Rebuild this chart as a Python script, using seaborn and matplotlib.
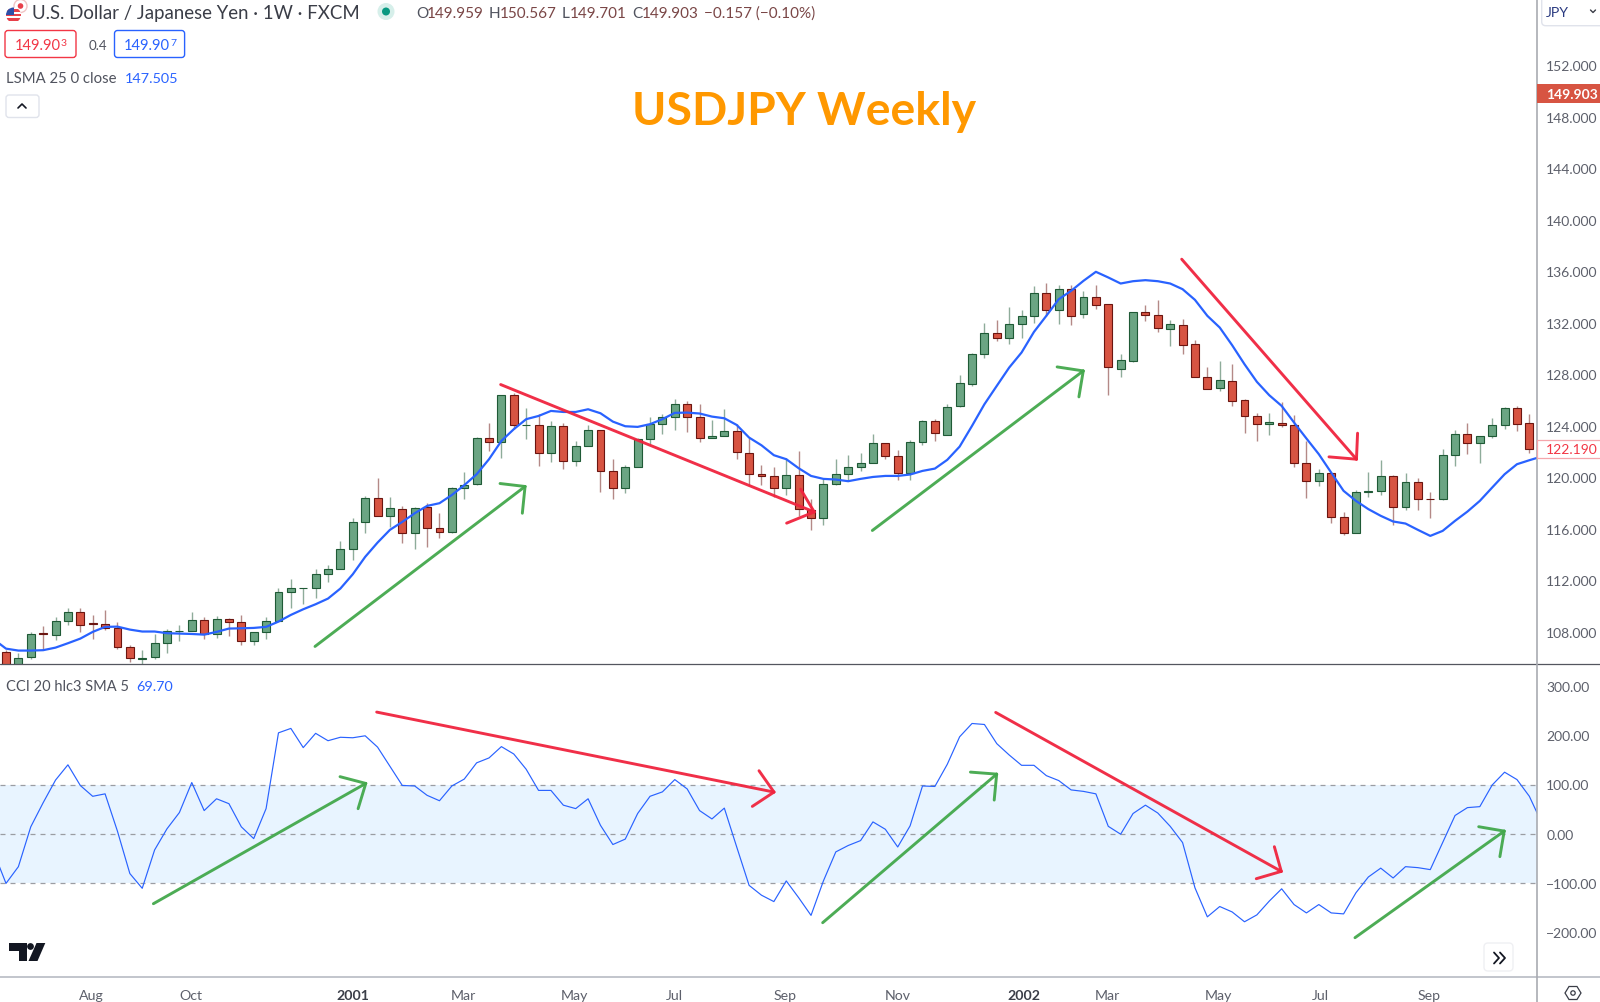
import numpy as np
import matplotlib
matplotlib.use("Agg")
import matplotlib.pyplot as plt
from matplotlib.patches import Circle, FancyBboxPatch, Polygon, Rectangle
import seaborn as sns

# -----------------------
# Weekly candles, one value per bar
# -----------------------
candle_open = [
    106.46, 105.20, 106.05, 107.88, 107.78, 108.82, 109.57, 108.65, 108.59, 108.33,
    106.85, 105.92, 106.02, 107.13, 108.05, 108.07, 108.90, 107.86, 108.97, 108.74,
    107.29, 108.02, 108.82, 111.12, 111.41, 111.41, 112.52, 112.89, 114.44, 116.56,
    118.43, 117.00, 117.57, 115.68, 117.68, 116.04, 115.76, 119.20, 119.46, 123.06,
    122.78, 126.38, 124.08, 124.10, 121.90, 124.02, 121.30, 122.47, 123.66, 120.47,
    119.15, 120.84, 122.99, 124.18, 124.67, 125.71, 124.67, 123.06, 123.19, 123.63,
    121.93, 120.24, 120.09, 119.15, 120.16, 117.50, 116.87, 119.52, 120.24, 120.84,
    121.15, 122.70, 121.67, 120.35, 122.78, 124.39, 123.30, 125.55, 127.24, 129.62,
    131.25, 130.86, 131.90, 132.50, 134.36, 133.01, 134.64, 132.73, 134.05, 133.45,
    128.45, 129.05, 132.88, 132.65, 131.56, 131.82, 130.35, 127.83, 126.98, 127.52,
    125.99, 124.75, 124.18, 124.23, 124.10, 121.15, 119.75, 120.32, 116.88, 115.71,
    118.85, 118.92, 120.09, 117.68, 119.60, 118.35, 118.28, 121.72, 123.35, 122.68,
    123.22, 124.03, 125.42, 124.21,
]
candle_close = [
    105.00, 105.96, 107.86, 107.84, 108.82, 109.57, 108.53, 108.62, 108.30, 106.85,
    105.94, 105.96, 107.16, 108.07, 108.07, 108.90, 107.86, 108.97, 108.74, 107.29,
    108.02, 108.82, 111.12, 111.41, 111.43, 112.52, 112.89, 114.44, 116.56, 118.43,
    117.03, 117.60, 115.68, 117.65, 116.07, 115.76, 119.20, 119.44, 123.09, 122.78,
    126.38, 124.07, 124.10, 121.90, 124.02, 121.30, 122.44, 123.66, 120.50, 119.15,
    120.84, 122.99, 124.18, 124.67, 125.71, 124.70, 123.06, 123.19, 123.63, 121.95,
    120.27, 120.11, 119.15, 120.19, 117.57, 116.87, 119.52, 120.24, 120.84, 121.15,
    122.70, 121.67, 120.35, 122.78, 124.39, 123.43, 125.50, 127.34, 129.62, 131.25,
    130.86, 131.90, 132.50, 134.36, 133.01, 134.64, 132.50, 134.05, 133.40, 128.61,
    129.10, 132.81, 132.65, 131.61, 131.90, 130.29, 127.78, 126.90, 127.57, 125.94,
    124.78, 124.18, 124.31, 124.10, 121.15, 119.75, 120.32, 116.88, 115.69, 118.85,
    118.90, 120.12, 117.68, 119.60, 118.35, 118.30, 121.72, 123.35, 122.70, 123.20,
    124.03, 125.42, 124.18, 122.19,
]
candle_high = [
    106.60, 106.38, 107.99, 108.46, 109.18, 109.83, 109.83, 109.28, 109.67, 108.77,
    107.00, 106.59, 107.81, 108.20, 108.51, 109.57, 109.13, 109.23, 109.10, 109.28,
    108.02, 109.13, 111.43, 112.08, 111.43, 112.86, 113.17, 115.03, 116.87, 118.56,
    119.93, 118.45, 117.78, 117.70, 117.99, 117.21, 119.28, 120.42, 123.15, 124.26,
    126.38, 126.54, 125.42, 124.90, 124.39, 124.20, 122.81, 124.05, 123.66, 121.41,
    120.99, 123.09, 124.72, 124.90, 126.12, 125.94, 125.73, 124.46, 125.34, 124.13,
    123.09, 120.94, 120.79, 121.54, 122.05, 118.35, 119.90, 121.46, 121.77, 121.93,
    123.35, 122.70, 122.11, 122.94, 124.44, 124.57, 125.73, 127.93, 129.67, 131.98,
    132.21, 133.27, 132.99, 134.88, 135.09, 134.93, 134.93, 134.44, 134.96, 133.50,
    129.57, 132.88, 133.40, 133.76, 132.21, 132.34, 130.66, 128.61, 129.05, 128.77,
    126.12, 124.98, 124.98, 125.86, 124.83, 122.83, 120.68, 120.37, 117.34, 119.03,
    120.43, 121.31, 120.19, 120.30, 119.91, 118.87, 122.24, 123.66, 124.21, 123.25,
    124.62, 125.50, 125.55, 124.95,
]
candle_low = [
    104.80, 104.90, 105.87, 106.59, 107.34, 108.51, 107.99, 107.47, 108.15, 106.69,
    105.66, 105.48, 105.87, 106.38, 107.29, 108.07, 107.42, 107.55, 107.68, 106.98,
    106.98, 107.47, 108.82, 109.83, 110.19, 110.63, 111.87, 112.86, 113.58, 115.66,
    117.03, 116.17, 114.91, 114.41, 114.62, 115.27, 115.71, 118.30, 119.44, 122.05,
    121.51, 123.74, 122.96, 120.89, 121.20, 120.68, 120.89, 122.44, 118.87, 118.30,
    118.77, 120.81, 122.57, 123.35, 123.69, 123.56, 122.75, 123.06, 123.19, 121.41,
    119.34, 119.41, 118.51, 118.61, 117.00, 115.89, 116.33, 119.39, 119.80, 120.50,
    121.12, 121.46, 119.80, 119.80, 122.52, 122.83, 123.30, 125.50, 127.11, 129.31,
    130.60, 130.35, 130.84, 132.03, 132.55, 131.90, 131.82, 132.37, 133.07, 126.38,
    127.76, 129.00, 132.16, 131.30, 130.22, 129.59, 127.76, 126.90, 126.72, 125.55,
    123.48, 122.83, 123.27, 123.95, 120.81, 118.39, 119.29, 116.44, 115.53, 115.69,
    118.48, 118.61, 116.33, 117.47, 117.45, 116.85, 118.22, 120.89, 121.85, 121.13,
    123.04, 123.74, 123.61, 121.90,
]

# LSMA and CCI start one bar before the first visible candle
lsma_values = [
    107.42, 106.69, 106.54, 106.54, 106.57, 106.77, 107.11, 107.47, 107.99, 108.38,
    108.40, 108.17, 108.02, 108.02, 107.89, 107.86, 107.83, 107.78, 107.99, 108.25,
    108.27, 108.30, 108.38, 108.79, 109.31, 109.75, 110.14, 110.58, 111.36, 112.47,
    113.82, 114.93, 115.92, 116.54, 117.21, 117.78, 117.99, 118.63, 119.39, 120.24,
    121.41, 122.83, 123.74, 124.52, 124.77, 125.16, 125.08, 125.08, 125.29, 124.98,
    124.33, 123.97, 123.92, 124.13, 124.52, 125.01, 125.03, 124.96, 124.72, 124.59,
    124.07, 123.09, 122.49, 121.72, 121.41, 120.71, 120.11, 119.88, 119.83, 119.70,
    119.88, 120.03, 120.11, 120.11, 120.22, 120.50, 120.68, 121.36, 122.39, 124.00,
    125.68, 127.11, 128.53, 129.70, 131.30, 132.55, 133.84, 134.49, 135.27, 135.97,
    135.53, 135.06, 135.24, 135.32, 135.24, 135.06, 134.62, 133.79, 132.55, 131.64,
    130.27, 128.79, 127.42, 126.38, 125.55, 124.26, 123.02, 121.80, 120.37, 118.95,
    118.17, 117.53, 117.01, 116.57, 116.41, 115.92, 115.45, 115.84, 116.62, 117.34,
    118.17, 119.21, 120.24, 121.02, 121.33, 121.62,
]
cci_values = [
    -37, -101, -67, 14, 63, 109, 140, 98, 76, 81,
    5, -81, -111, -33, 10, 43, 104, 47, 71, 61,
    14, -10, 51, 205, 214, 175, 204, 189, 196, 195,
    199, 176, 137, 98, 97, 78, 67, 97, 111, 144,
    154, 177, 162, 131, 88, 88, 58, 51, 71, 17,
    -22, -11, 41, 76, 85, 110, 91, 47, 30, 52,
    -27, -105, -125, -138, -96, -130, -166, -96, -37, -24,
    -14, 24, 9, -27, 16, 97, 96, 141, 197, 224,
    222, 183, 160, 139, 139, 118, 108, 89, 86, 81,
    15, -1, 41, 58, 42, 15, -18, -110, -169, -148,
    -159, -179, -165, -137, -112, -144, -161, -144, -161, -163,
    -120, -88, -70, -90, -67, -69, -73, -18, 37, 53,
    55, 99, 125, 110, 76, 22,
]

price_ticks = [108, 112, 116, 120, 124, 128, 132, 136, 140, 144, 148, 152]
cci_ticks = [-200, -100, 0, 100, 200, 300]
month_bars = [6.9, 14.9, 28.0, 36.9, 45.9, 54.0, 62.9, 72.0, 82.2, 88.9, 97.9, 106.1, 114.9]
month_labels = ["Aug", "Oct", "2001", "Mar", "May", "Jul", "Sep", "Nov", "2002", "Mar", "May", "Jul", "Sep"]

# start, tip, barb, barb -> (bar, value)
price_arrows_green = [
    ((24.95, 106.86), (41.91, 119.29), (39.89, 119.52), (41.69, 117.21)),
    ((69.95, 115.87), (86.98, 128.27), (84.87, 128.58), (86.63, 126.25)),
]
price_arrows_red = [
    ((39.94, 127.21), (65.26, 117.31), (64.16, 119.08), (63.03, 116.44)),
    ((94.93, 136.95), (109.04, 121.41), (109.13, 123.43), (106.82, 121.59)),
]
cci_arrows_green = [
    ((11.90, -142.3), (29.05, 102.2), (26.97, 115.9), (28.43, 50.8)),
    ((65.94, -180.9), (79.99, 121.1), (77.87, 125.2), (79.79, 68.3)),
    ((108.92, -211.4), (120.97, 5.3), (118.91, 14.2), (120.62, -46.7)),
]
cci_arrows_red = [
    ((29.93, 247.2), (62.01, 84.6), (60.80, 128.0), (60.26, 55.5)),
    ((79.91, 246.5), (102.97, -76.6), (102.41, -26.4), (100.95, -91.5)),
]

# -----------------------
# Figure setup
# -----------------------
sns.set_theme(style="white")
plt.rcParams["font.family"] = ["Lato", "DejaVu Sans"]

W, H = 1600, 1003
SPLIT_PX, BOTTOM_PX = 665, 978
GREEN, GREEN_EDGE = "#6BA583", "#1F5A36"
RED, RED_EDGE = "#D75442", "#6B1510"
BLUE = "#2962FF"
ARROW_GREEN, ARROW_RED = "#43A84C", "#F0243E"
AXIS_TEXT = "#5D606B"
BAR_PX, X0_PX, RIGHT_PX = 12.385, 6.0, 1536.7

fig = plt.figure(figsize=(W / 100, H / 100), dpi=100, facecolor="white")


def panel(top, bottom):
    ax = fig.add_axes([0, 1 - bottom / H, RIGHT_PX / W, (bottom - top) / H])
    ax.set_xlim((0 - X0_PX) / BAR_PX, (RIGHT_PX - X0_PX) / BAR_PX)
    ax.yaxis.tick_right()
    ax.tick_params(axis="y", length=0, pad=6.8, labelsize=10.0, labelcolor=AXIS_TEXT)
    ax.set_facecolor("white")
    sns.despine(ax=ax, left=True, right=True, top=True, bottom=True)
    return ax


def draw_arrows(ax, arrows, color):
    for start, tip, barb_a, barb_b in arrows:
        for a, b in ((start, tip), (barb_a, tip), (barb_b, tip)):
            ax.plot([a[0], b[0]], [a[1], b[1]], color=color, lw=2.1,
                    solid_capstyle="round", alpha=0.95, zorder=6)


ax_price = panel(0, SPLIT_PX)
ax_cci = panel(SPLIT_PX, BOTTOM_PX)
ax_price.set_ylim(152 - (SPLIT_PX - 66.5) / 12.87, 152 + 66.5 / 12.87)
ax_cci.set_ylim((834.7 - BOTTOM_PX) / 0.492, (834.7 - SPLIT_PX) / 0.492)

# -----------------------
# Price panel
# -----------------------
bars = np.arange(len(candle_open))
opens, closes = np.array(candle_open), np.array(candle_close)
up = closes >= opens
body_low = np.minimum(opens, closes)
body_size = np.abs(closes - opens)

ax_price.vlines(bars[up], np.array(candle_low)[up], np.array(candle_high)[up],
                color=GREEN_EDGE, lw=1.0, alpha=0.5, zorder=2)
ax_price.vlines(bars[~up], np.array(candle_low)[~up], np.array(candle_high)[~up],
                color=RED_EDGE, lw=1.0, alpha=0.5, zorder=2)
ax_price.bar(bars[up], body_size[up], bottom=body_low[up], width=0.64,
             color=GREEN, edgecolor=GREEN_EDGE, linewidth=0.8, zorder=3)
ax_price.bar(bars[~up], body_size[~up], bottom=body_low[~up], width=0.64,
             color=RED, edgecolor=RED_EDGE, linewidth=0.8, zorder=3)

sns.lineplot(x=np.arange(-1, len(lsma_values) - 1), y=lsma_values, ax=ax_price,
             color=BLUE, linewidth=1.6, sort=False, errorbar=None, legend=False, zorder=4)

draw_arrows(ax_price, price_arrows_green, ARROW_GREEN)
draw_arrows(ax_price, price_arrows_red, ARROW_RED)

ax_price.set_xticks([])
ax_price.set_yticks(price_ticks)
ax_price.set_yticklabels([f"{v:.3f}" for v in price_ticks])

# -----------------------
# CCI panel
# -----------------------
ax_cci.axhspan(-100, 100, color="#E8F4FF", lw=0, zorder=0)
for level in (-100, 0, 100):
    ax_cci.axhline(level, color="#9B9DA3", lw=0.9, dashes=(4, 4), zorder=1)

sns.lineplot(x=np.arange(-1, len(cci_values) - 1), y=cci_values, ax=ax_cci,
             color=BLUE, linewidth=0.85, sort=False, errorbar=None, legend=False, zorder=4)

draw_arrows(ax_cci, cci_arrows_green, ARROW_GREEN)
draw_arrows(ax_cci, cci_arrows_red, ARROW_RED)

ax_cci.set_yticks(cci_ticks)
ax_cci.set_yticklabels([f"{v:.2f}".replace("-", "\u2212") for v in cci_ticks])
ax_cci.set_xticks(month_bars)
ax_cci.set_xticklabels(month_labels)
ax_cci.tick_params(axis="x", length=0, pad=8.9, labelsize=10.2, labelcolor=AXIS_TEXT)
for lab in ax_cci.get_xticklabels():
    if lab.get_text().startswith("200"):
        lab.set_fontweight("bold")
        lab.set_color("#3B3E48")

# -----------------------
# Toolbar, legends and other chrome, in picture pixels
# -----------------------
ui = fig.add_axes([0, 0, 1, 1], zorder=10)
ui.set_xlim(0, W)
ui.set_ylim(H, 0)
ui.axis("off")
ui.patch.set_alpha(0)


def label(x, y, s, size=11.0, color="#50535E", **kw):
    ui.text(x, y + 1.2, s, fontsize=size, color=color, va="center", **kw)


def round_box(x0, y0, x1, y1, edge, face="white", lw=1.0, r=3, z=2):
    ui.add_patch(FancyBboxPatch((x0 + r, y0 + r), x1 - x0 - 2 * r, y1 - y0 - 2 * r,
                                boxstyle=f"round,pad={r},rounding_size={r}",
                                ec=edge, fc=face, lw=lw, zorder=z))


# panel separators
ui.plot([0, W], [SPLIT_PX, SPLIT_PX], color="#53565F", lw=0.9)
ui.plot([0, W], [BOTTOM_PX, BOTTOM_PX], color="#B2B5BE", lw=1.1)
ui.plot([RIGHT_PX, RIGHT_PX], [0, H], color="#A9ABB2", lw=1.2)

# symbol flags
ui.add_patch(Circle((20.5, 7), 6.5, fc="white", ec="#F1C4C4", lw=1.0, zorder=2))
ui.add_patch(Circle((20.5, 7), 2.8, fc="#E8404A", ec="none", zorder=3))
us_flag = Circle((13.5, 16), 7.5, fc="white", ec="none", zorder=4)
ui.add_patch(us_flag)
for sy in (11.5, 16.0, 20.5):
    stripe = Rectangle((5, sy - 1.2), 17, 2.4, fc="#E8404A", ec="none", zorder=5)
    ui.add_patch(stripe)
    stripe.set_clip_path(us_flag)
canton = Rectangle((5, 8), 9, 8, fc="#2E4FA8", ec="none", zorder=6)
ui.add_patch(canton)
canton.set_clip_path(us_flag)

label(32, 12.5, "U.S. Dollar / Japanese Yen \u00b7 1W \u00b7 FXCM", size=13.4, color="#3A3D47")
ui.add_patch(Circle((386, 12.5), 8.5, fc="#D6EFEA", ec="none"))
ui.add_patch(Circle((386, 12.5), 4, fc="#089981", ec="none"))

ohlc_x = [416, 489, 562, 632]
ohlc_letter = ["O", "H", "L", "C"]
ohlc_val = ["149.959", "150.567", "149.701", "149.903"]
ohlc_gap = [11, 11, 8, 10]
for x, let, val, gap in zip(ohlc_x, ohlc_letter, ohlc_val, ohlc_gap):
    label(x, 12.5, let, color="#50535E")
    label(x + gap, 12.5, val, color="#7A4646")
label(703.5, 12.5, "\u22120.157 (\u22120.10%)", color="#7A4646")

# bid / ask boxes
round_box(5, 31.5, 76, 58.5, "#F23645")
label(14.5, 44.5, "149.90", color="#F23645", size=10.6)
label(60.5, 42, "3", color="#F23645", size=7.5)
label(88.5, 44.5, "0.4", color="#50535E", size=9.6)
round_box(114.5, 31.5, 184.6, 58.5, BLUE)
label(124, 44.5, "149.90", color=BLUE, size=10.6)
label(170.5, 42, "7", color=BLUE, size=7.5)

label(5.5, 77.5, "LSMA 25 0 close", size=10.7)
label(125, 77.5, "147.505", size=10.4, color=BLUE)

round_box(6, 96, 39, 118.5, "#E0E3EB")
ui.plot([18, 22, 26], [109, 105, 109], color="#131722", lw=1.2)

label(804.5, 110.8, "USDJPY Weekly", size=33.4, color="#FF9800", ha="center", fontweight="bold")

# price scale tags
round_box(1541.7, -6, 1610, 26.7, "#E0E3EB", r=4)
label(1545.7, 12, "JPY", size=10.2, color="#2A3A80")
ui.plot([1590.5, 1593, 1595.5], [11, 13.5, 11], color="#3A3D47", lw=1.0)
ui.add_patch(Rectangle((1537, 84.7), 63, 19.3, fc="#D75442", ec="none", zorder=3))
ui.text(1546, 94.5, "149.903", fontsize=10.0, color="white", fontweight="bold", va="center", zorder=4)
ui.add_patch(Rectangle((1537, 440.7), 66, 18.3, fc="white", ec="#F5A6AC", lw=0.9, zorder=3))
ui.text(1546, 450, "122.190", fontsize=10.0, color="#F23645", va="center", zorder=4)

label(5.7, 685.5, "CCI 20 hlc3 SMA 5", size=10.5)
label(136, 685.5, "69.70", size=10.4, color=BLUE)

# TradingView mark
tv = "#131722"
ui.add_patch(Polygon([(9.3, 944), (27, 944), (27, 962), (18.5, 962), (18.5, 952), (9.3, 952)], fc=tv, ec="none"))
ui.add_patch(Circle((30.5, 947.5), 3.4, fc=tv, ec="none"))
ui.add_patch(Polygon([(36.5, 944), (45.3, 944), (37.5, 962), (28.5, 962)], fc=tv, ec="none"))

# scroll button and settings hexagon
round_box(1484, 944, 1513, 972, "#EFF0F3", r=4, z=3)
for dx in (0, 6):
    ui.plot([1494 + dx, 1499 + dx, 1494 + dx], [953.5, 959, 964.5], color="#131722", lw=1.3, zorder=4)
hex_x = [1565, 1569, 1577, 1581, 1577, 1569]
hex_y = [994, 987.5, 987.5, 994, 1000.5, 1000.5]
ui.add_patch(Polygon(list(zip(hex_x, hex_y)), closed=True, fc="none", ec="#3A3D47", lw=0.9))
ui.add_patch(Circle((1573, 994), 2.2, fc="none", ec="#3A3D47", lw=0.9))

fig.savefig("out.png", dpi=100)
